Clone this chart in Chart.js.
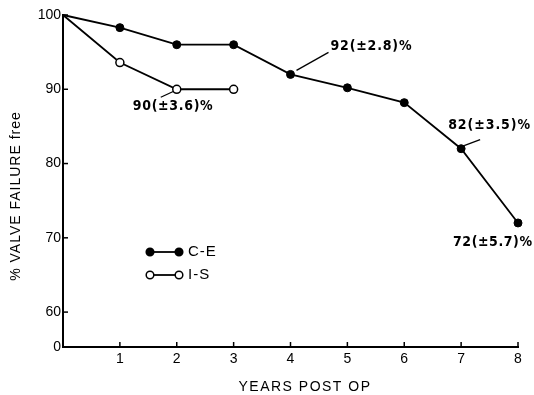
<!DOCTYPE html>
<html>
<head>
<meta charset="utf-8">
<script src="https://cdn.jsdelivr.net/npm/chart.js@4/dist/chart.umd.min.js"></script>
<style>
  html, body { margin: 0; padding: 0; background: #fff; }
  #wrap { width: 534px; height: 395px; }
</style>
</head>
<body>
<div id="wrap"><canvas id="c" width="534" height="395"></canvas></div>
<script>
// Years after operation
const YEARS = [0, 1, 2, 3, 4, 5, 6, 7, 8];
// Freedom from valve failure (%), C-E valve
const CE_VALUES = [100, 98.3, 96, 96, 92, 90.2, 88.2, 82, 72];
// Freedom from valve failure (%), I-S valve
const IS_YEARS = [0, 1, 2, 3];
const IS_VALUES = [100, 93.6, 90, 90];
// Axis ticks; the axis is broken below 60 and its base is labelled 0
const Y_TICKS = [60, 70, 80, 90, 100];
const Y_BASE = 55.3;
const X_TICKS = [1, 2, 3, 4, 5, 6, 7, 8];
// Standard errors written beside selected points
const NOTE_SERIES = ['C-E', 'I-S', 'C-E', 'C-E'];
const NOTE_YEARS = [4, 2, 7, 8];
const NOTE_SE = ['2.8', '3.6', '3.5', '5.7'];

const FONT = "'Liberation Sans', Arial, sans-serif";
const NOTE_FONT = "bold 14px 'Liberation Sans Narrow', 'DejaVu Sans Condensed', 'Liberation Sans', sans-serif";

// where each note's text and leader sit relative to its point
const NOTE_LAYOUT = [
  { dx: 40, dy: -28, w: 81, lead: [6, -4, 38, -22] },
  { dx: -44, dy: 17, w: 80, lead: [-16, 8, -3, 2] },
  { dx: -13, dy: -23, w: 82, lead: [3, -3, 19, -9] },
  { dx: -65, dy: 19, w: 79, lead: null }
];

const seriesData = {
  'C-E': YEARS.map((x, i) => ({ x, y: CE_VALUES[i] })),
  'I-S': IS_YEARS.map((x, i) => ({ x, y: IS_VALUES[i] }))
};

const decorations = {
  id: 'decorations',
  afterDraw(chart) {
    const ctx = chart.ctx;
    const xs = chart.scales.x, ys = chart.scales.y;
    const area = chart.chartArea;
    ctx.save();
    ctx.strokeStyle = '#000';
    ctx.fillStyle = '#000';
    ctx.lineWidth = 1.5;

    // inward tick marks
    Y_TICKS.forEach(v => {
      const py = ys.getPixelForValue(v);
      ctx.beginPath(); ctx.moveTo(area.left - 1, py); ctx.lineTo(area.left + 5, py); ctx.stroke();
    });
    X_TICKS.forEach(v => {
      const px = xs.getPixelForValue(v);
      ctx.beginPath(); ctx.moveTo(px, area.bottom + 1); ctx.lineTo(px, area.bottom - 5); ctx.stroke();
    });

    // axis titles
    ctx.font = '14px ' + FONT;
    ctx.letterSpacing = '1.5px';
    ctx.textAlign = 'center';
    ctx.textBaseline = 'middle';
    ctx.fillText('YEARS POST OP', 305, 387);
    ctx.save();
    ctx.translate(16, 196);
    ctx.rotate(-Math.PI / 2);
    ctx.letterSpacing = '1px';
    ctx.fillText('% VALVE FAILURE free', 0, 0);
    ctx.restore();

    // legend
    const legend = [
      { label: 'C-E', fill: '#000', y: 252 },
      { label: 'I-S', fill: '#fff', y: 275 }
    ];
    ctx.letterSpacing = '1px';
    ctx.textAlign = 'left';
    legend.forEach(item => {
      ctx.lineWidth = 1.8;
      ctx.beginPath(); ctx.moveTo(150, item.y); ctx.lineTo(179, item.y); ctx.stroke();
      [150, 179].forEach(cx => {
        ctx.beginPath(); ctx.arc(cx, item.y, 3.8, 0, Math.PI * 2);
        ctx.fillStyle = item.fill; ctx.fill();
        ctx.lineWidth = 1.5; ctx.stroke();
      });
      ctx.fillStyle = '#000';
      ctx.font = '15px ' + FONT;
      ctx.fillText(item.label, 188, item.y);
    });

    // value notes with standard errors, spread to a set width
    ctx.font = NOTE_FONT;
    ctx.textAlign = 'left';
    NOTE_SERIES.forEach((s, i) => {
      const pt = seriesData[s].find(p => p.x === NOTE_YEARS[i]);
      const px = xs.getPixelForValue(pt.x), py = ys.getPixelForValue(pt.y);
      const lay = NOTE_LAYOUT[i];
      const text = `${pt.y}(±${NOTE_SE[i]})%`;
      ctx.letterSpacing = '0px';
      const natural = ctx.measureText(text).width;
      const gap = Math.max(0, (lay.w - natural) / (text.length - 1));
      ctx.letterSpacing = gap.toFixed(2) + 'px';
      ctx.fillText(text, px + lay.dx, py + lay.dy);
      if (lay.lead) {
        ctx.lineWidth = 1.3;
        ctx.beginPath();
        ctx.moveTo(px + lay.lead[0], py + lay.lead[1]);
        ctx.lineTo(px + lay.lead[2], py + lay.lead[3]);
        ctx.stroke();
      }
    });
    ctx.restore();
  }
};

const hideFirst = ctx => (ctx.dataIndex === 0 ? 0 : 4);

new Chart(document.getElementById('c'), {
  type: 'line',
  data: {
    datasets: [
      {
        label: 'C-E',
        data: seriesData['C-E'],
        borderColor: '#000',
        borderWidth: 1.8,
        pointRadius: hideFirst,
        pointBackgroundColor: '#000',
        pointBorderColor: '#000',
        pointBorderWidth: 1,
        tension: 0,
        clip: false
      },
      {
        label: 'I-S',
        data: seriesData['I-S'],
        borderColor: '#000',
        borderWidth: 1.8,
        pointRadius: hideFirst,
        pointBackgroundColor: '#fff',
        pointBorderColor: '#000',
        pointBorderWidth: 1.5,
        tension: 0,
        clip: false
      }
    ]
  },
  options: {
    responsive: false,
    animation: false,
    events: [],
    layout: { padding: { top: 15, right: 16, left: 0, bottom: 0 } },
    plugins: { legend: { display: false }, tooltip: { enabled: false } },
    scales: {
      x: {
        type: 'linear',
        min: 0,
        max: 8,
        grid: { display: false, drawTicks: false },
        border: { display: true, color: '#000', width: 2 },
        afterBuildTicks: scale => { scale.ticks = X_TICKS.map(v => ({ value: v })); },
        afterFit: scale => { scale.height = 48; },
        ticks: { color: '#000', font: { family: FONT, size: 14 }, padding: 4, maxRotation: 0 }
      },
      y: {
        min: Y_BASE,
        max: 100,
        grid: { display: false, drawTicks: false },
        border: { display: true, color: '#000', width: 2 },
        afterBuildTicks: scale => { scale.ticks = [Y_BASE, ...Y_TICKS].map(v => ({ value: v })); },
        afterFit: scale => { scale.width = 63; },
        ticks: {
          color: '#000',
          font: { family: FONT, size: 14 },
          padding: 2,
          callback: v => (v === Y_BASE ? '0' : String(v))
        }
      }
    }
  },
  plugins: [decorations]
});
</script>
</body>
</html>
